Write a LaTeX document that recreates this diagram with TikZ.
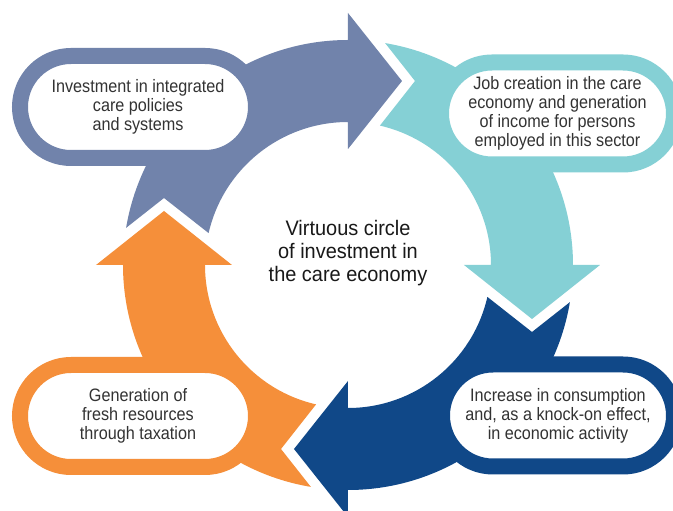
\documentclass[tikz,border=0pt]{standalone}
\usepackage{fontspec}
\setmainfont{Liberation Sans}[FakeStretch=0.9]
\newfontfamily\centerfont{Liberation Sans}[FakeStretch=0.95]
\definecolor{slate}{HTML}{7183AB}
\definecolor{tealc}{HTML}{85D0D5}
\definecolor{dblue}{HTML}{104888}
\definecolor{orng}{HTML}{F58F3A}
\definecolor{txt}{HTML}{333333}
\begin{document}
\begin{tikzpicture}[x=1pt,y=1pt,
  cbox/.style={rectangle, rounded corners=51, line width=16, fill=white,
    minimum width=234, minimum height=102, inner sep=0pt, align=center,
    text=txt, font=\fontsize{18}{19}\selectfont}]
\useasboundingbox[fill=white] (-348,-246) rectangle (325,265);
% circular arrow segments
\foreach \ang/\col in {0/slate,-90/tealc,-180/dblue,-270/orng}{
  \fill[\col, rotate=\ang] (170.5:225) arc[start angle=170.5, end angle=90, radius=225]
    -- (0,252) -- (54,184) -- (0,116) -- (0,143)
    arc[start angle=90, end angle=167.1, radius=143] -- (-184,67) -- cycle;
}
% boxes
\node[cbox, draw=slate, minimum width=236] (b1) at (-210,158) {Investment in integrated\\care policies\\and systems};
\node[cbox, draw=tealc, minimum width=233] (b2) at (209.5,151.5) {Job creation in the care\\economy and generation\\of income for persons\\employed in this sector};
\node[cbox, draw=dblue, minimum width=232] (b3) at (210,-150.5) {Increase in consumption\\and, as a knock-on effect,\\in economic activity};
\node[cbox, draw=orng, minimum width=236] (b4) at (-210,-151) {Generation of\\fresh resources\\through taxation};
% centre
\node[align=center, text=black!90, font=\centerfont\fontsize{21}{23}\selectfont] (c) at (0,12)
  {Virtuous circle\\of investment in\\the care economy};
\end{tikzpicture}
\end{document}
